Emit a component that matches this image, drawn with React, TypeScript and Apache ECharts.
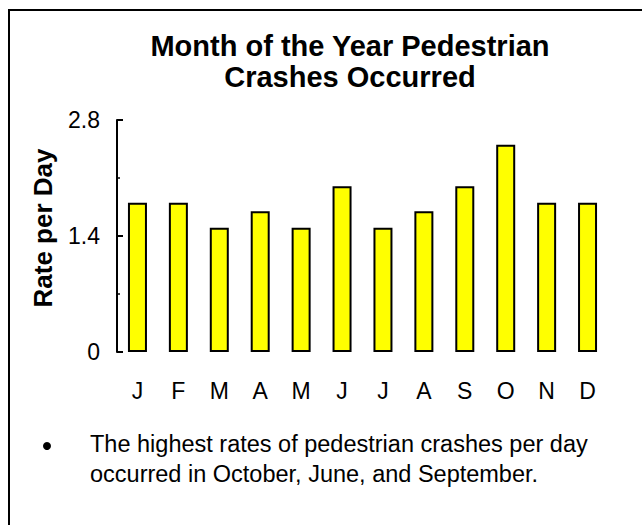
import React, { useEffect, useRef } from "react";
import * as echarts from "echarts";

const months = ["J", "F", "M", "A", "M", "J", "J", "A", "S", "O", "N", "D"];
const ratePerDay = [1.8, 1.8, 1.5, 1.7, 1.5, 2.0, 1.5, 1.7, 2.0, 2.5, 1.8, 1.8];
const yMin = 0;
const yMax = 2.8;
const yInterval = 1.4;
const titleText = "Month of the Year Pedestrian\nCrashes Occurred";
const yAxisTitle = "Rate per Day";
const noteText = "The highest rates of pedestrian crashes per day\noccurred in October, June, and September.";

const FONT = "'Liberation Sans', Arial, Helvetica, sans-serif";

export default function App() {
  const ref = useRef<HTMLDivElement>(null);
  useEffect(() => {
    if (!ref.current) return;
    const chart = echarts.init(ref.current, null, { renderer: "svg" });
    chart.setOption({
      animation: false,
      backgroundColor: "#ffffff",
      title: {
        text: titleText,
        left: 345,
        top: 25,
        textAlign: "center",
        textStyle: {
          fontFamily: FONT,
          fontSize: 29,
          fontWeight: "bold",
          color: "#000",
          lineHeight: 31,
        },
      },
      grid: { left: 117, right: 34, top: 120, bottom: 173, containLabel: false },
      xAxis: {
        type: "category",
        data: months,
        axisLine: { show: false },
        axisTick: { show: false },
        axisLabel: {
          fontFamily: FONT,
          fontSize: 23,
          color: "#000",
          margin: 27,
          interval: 0,
        },
      },
      yAxis: {
        type: "value",
        min: yMin,
        max: yMax,
        interval: yInterval,
        axisLine: { show: true, lineStyle: { color: "#000", width: 2 } },
        axisTick: { show: true, inside: true, length: 6, lineStyle: { color: "#000", width: 2 } },
        minorTick: { show: true, splitNumber: 2, length: 3, lineStyle: { color: "#000", width: 1.5 } },
        splitLine: { show: false },
        axisLabel: {
          fontFamily: FONT,
          fontSize: 23,
          color: "#000",
          margin: 17,
          formatter: (v: number) => (v === 0 ? "0" : v.toFixed(1)),
        },
      },
      series: [
        {
          type: "bar",
          data: ratePerDay,
          barWidth: 19,
          itemStyle: { color: "#ffff00", borderColor: "#000", borderWidth: 2 },
        },
      ],
      graphic: [
        { type: "line", shape: { x1: 8, y1: 10, x2: 642, y2: 10 }, style: { stroke: "#000", lineWidth: 2 } },
        { type: "line", shape: { x1: 9, y1: 9, x2: 9, y2: 525 }, style: { stroke: "#000", lineWidth: 2 } },
        {
          type: "text",
          x: 43,
          y: 228,
          rotation: Math.PI / 2,
          style: {
            text: yAxisTitle,
            fontFamily: FONT,
            fontSize: 26,
            fontWeight: "bold",
            fill: "#000",
            textAlign: "center",
            textVerticalAlign: "middle",
          },
        },
        { type: "circle", shape: { cx: 47, cy: 446, r: 4 }, style: { fill: "#000" } },
        {
          type: "text",
          x: 90,
          y: 429,
          style: {
            text: noteText,
            fontFamily: FONT,
            fontSize: 23.5,
            lineHeight: 30,
            fill: "#000",
            textAlign: "left",
            textVerticalAlign: "top",
          },
        },
      ],
    });
    return () => chart.dispose();
  }, []);
  return (
    <div
      ref={ref}
      style={{ position: "fixed", left: 0, top: 0, width: 642, height: 525 }}
    />
  );
}
